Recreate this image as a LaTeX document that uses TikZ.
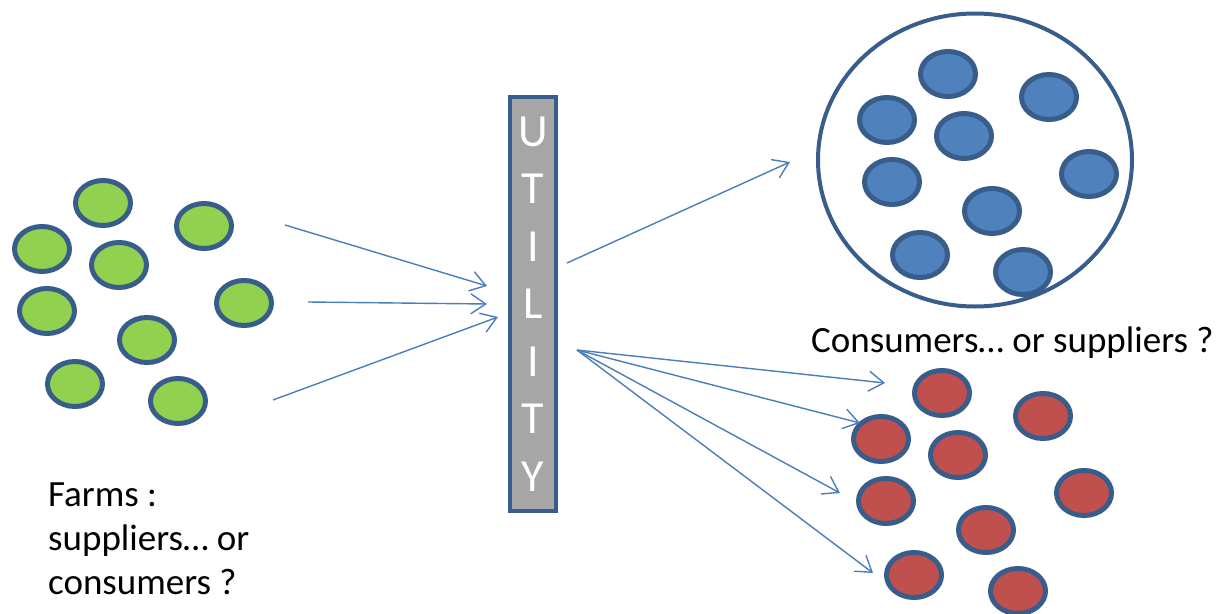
\documentclass[tikz,border=0pt]{standalone}
\usepackage{fontspec}
\setmainfont{Carlito}
\usetikzlibrary{arrows.meta, positioning, shapes.geometric}
\definecolor{rim}{HTML}{385D8A}
\definecolor{farmgreen}{HTML}{92D050}
\definecolor{homeblue}{HTML}{4F81BD}
\definecolor{homered}{HTML}{C0504D}
\definecolor{flowblue}{HTML}{4A7EBB}
\definecolor{bargray}{HTML}{A6A6A6}
\tikzset{
    x=1pt, y=-1pt, % one unit is one pixel of the sketch, y goes down
    dot/.style={ellipse, draw=rim, line width=5pt, minimum width=55pt, minimum height=45pt, inner sep=0pt}, % one farm or one customer
    farm/.style={dot, fill=farmgreen},
    blueuser/.style={dot, fill=homeblue},
    reduser/.style={dot, fill=homered},
    pool/.style={ellipse, draw=rim, line width=4pt, minimum width=314pt, minimum height=293pt}, % the closed group of customers
    utility/.style={rectangle, draw=rim, fill=bargray, line width=4pt, minimum width=46pt, minimum height=414pt, inner sep=0pt, text=white, align=center, font=\fontsize{46}{57.5}\selectfont},
    flow/.style={draw=flowblue, line width=1.4pt, -{Straight Barb[length=15pt, width=20pt]}}, % energy flows
    caption/.style={inner sep=0pt, align=left, font=\fontsize{37}{44}\selectfont},
}

\begin{document}
\begin{tikzpicture}
    \useasboundingbox (0,0) rectangle (1220,613);

    % farms on the left
    \node[farm] (g1) at (103,203) {};
    \node[farm] (g2) at (204,226) {};
    \node[farm] (g3) at (42,249) {};
    \node[farm] (g4) at (119,265) {};
    \node[farm] (g5) at (244,303) {};
    \node[farm] (g6) at (47,311) {};
    \node[farm] (g7) at (147,340) {};
    \node[farm] (g8) at (75,384) {};
    \node[farm] (g9) at (178,401) {};
    \node[caption, anchor=north west] (farms) at (48,483) {Farms :\\suppliers… or\\consumers ?};

    % the utility in the middle
    \node[utility] (util) at (533,304) {U\\T\\I\\L\\I\\T\\Y};

    % customers inside the circle
    \node[pool] (grp) at (975,160) {};
    \node[blueuser] (b1) at (948,74) {};
    \node[blueuser] (b2) at (1049,97) {};
    \node[blueuser] (b3) at (887,120) {};
    \node[blueuser] (b4) at (964,136) {};
    \node[blueuser] (b5) at (1089,174) {};
    \node[blueuser] (b6) at (892,182) {};
    \node[blueuser] (b7) at (992,211) {};
    \node[blueuser] (b8) at (920,255) {};
    \node[blueuser] (b9) at (1023,272) {};
    \node[caption, anchor=base west] (users) at (811,352) {Consumers… or suppliers ?};

    % customers one by one
    \node[reduser] (r1) at (942,393) {};
    \node[reduser] (r2) at (1043,416) {};
    \node[reduser] (r3) at (881,439) {};
    \node[reduser] (r4) at (958,455) {};
    \node[reduser] (r5) at (1084,493) {};
    \node[reduser] (r6) at (886,501) {};
    \node[reduser] (r7) at (986,530) {};
    \node[reduser] (r8) at (914,575) {};
    \node[reduser] (r9) at (1018,591) {};

    % free ends of the arrows
    \coordinate (in1) at (285,225);  \coordinate (to1) at (487,286);
    \coordinate (in2) at (308,302);  \coordinate (to2) at (487,304);
    \coordinate (in3) at (273,400);  \coordinate (to3) at (498,317);
    \coordinate (out) at (567,263);  \coordinate (togrp) at (790,162);
    \coordinate (fan) at (577,350);
    \coordinate (f1) at (885,383);
    \coordinate (f2) at (860,423);
    \coordinate (f3) at (840,493);
    \coordinate (f4) at (873,573);

    \path[every edge/.append style=flow]
        (in1) edge (to1)
        (in2) edge (to2)
        (in3) edge (to3)
        (out) edge (togrp)
        (fan) edge (f1)
        (fan) edge (f2)
        (fan) edge (f3)
        (fan) edge (f4);
\end{tikzpicture}
\end{document}
